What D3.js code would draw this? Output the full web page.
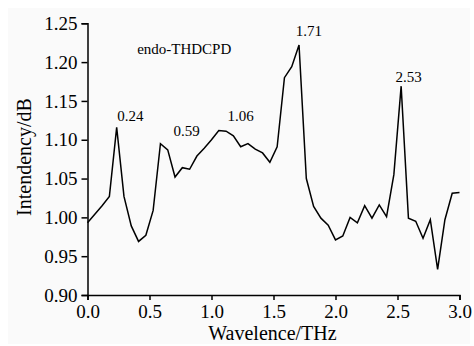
<!DOCTYPE html>
<html>
<head>
<meta charset="utf-8">
<script src="https://cdn.jsdelivr.net/npm/d3@7"></script>
<style>
  body { margin: 0; background: #fff; }
  text { font-family: "Liberation Serif", "Times New Roman", serif; fill: #000; }
</style>
</head>
<body>
<div class="chart"></div>
<script>
var svgWidth = 474;
var svgHeight = 346;

var margin = { top: 23.3, right: 14.5, bottom: 51, left: 87.5 };
var width = svgWidth - margin.left - margin.right;
var height = svgHeight - margin.top - margin.bottom;

// frequency samples: 52 points, step 3/51 THz
var step = 3 / 51;
var intensity = [
  0.993, 1.004, 1.015, 1.027, 1.116, 1.027, 0.989, 0.969, 0.977, 1.009,
  1.095, 1.087, 1.052, 1.064, 1.062, 1.079, 1.089, 1.100, 1.112, 1.111,
  1.105, 1.091, 1.095, 1.088, 1.083, 1.071, 1.091, 1.180, 1.194, 1.222,
  1.050, 1.014, 0.999, 0.990, 0.971, 0.976, 1.000, 0.993, 1.015, 0.999,
  1.016, 1.001, 1.055, 1.169, 0.999, 0.995, 0.973, 0.997, 0.933, 0.997,
  1.031, 1.032
];
var freqs = intensity.map(function(d, i) { return i * step; });

var xTicks = [0, 0.5, 1.0, 1.5, 2.0, 2.5, 3.0];
var yTicks = [0.90, 0.95, 1.00, 1.05, 1.10, 1.15, 1.20, 1.25];

// peak annotations (label, x, y in data units)
var peakLabels = ["0.24", "0.59", "1.06", "1.71", "2.53"];
var peakX = [0.345, 0.80, 1.235, 1.785, 2.59];
var peakY = [1.124, 1.105, 1.124, 1.233, 1.174];

var svg = d3.select(".chart")
  .append("svg")
  .attr("width", svgWidth)
  .attr("height", svgHeight);

svg.append("rect")
  .attr("x", 8).attr("y", 8)
  .attr("width", 462).attr("height", 336)
  .attr("fill", "#fafafa");

var chartGroup = svg.append("g")
  .attr("transform", `translate(${margin.left}, ${margin.top})`);

var x = d3.scaleLinear().domain([0, 3]).range([0, width]);
var y = d3.scaleLinear().domain([0.9, 1.25]).range([height, 0]);

var bottomAxis = d3.axisBottom(x)
  .tickValues(xTicks)
  .tickSize(5)
  .tickPadding(5)
  .tickFormat(d3.format(".1f"));
var leftAxis = d3.axisLeft(y)
  .tickValues(yTicks)
  .tickSize(6)
  .tickPadding(4)
  .tickFormat(d3.format(".2f"));

var xAxis = chartGroup.append("g")
  .attr("transform", `translate(0, ${height})`)
  .call(bottomAxis);
var yAxis = chartGroup.append("g")
  .call(leftAxis);

[xAxis, yAxis].forEach(function(ax) {
  ax.select(".domain").attr("stroke", "#000").attr("stroke-width", 1.5);
  ax.selectAll(".tick line").attr("stroke", "#000").attr("stroke-width", 1.5);
  ax.selectAll(".tick text")
    .attr("font-family", "Liberation Serif")
    .attr("font-size", 19)
    .attr("fill", "#000");
});

// the data line
var line = d3.line()
  .x(function(d, i) { return x(freqs[i]); })
  .y(function(d) { return y(d); });

chartGroup.append("path")
  .datum(intensity)
  .attr("fill", "none")
  .attr("stroke", "#000")
  .attr("stroke-width", 1.5)
  .attr("stroke-linejoin", "miter")
  .attr("d", line);

// peak labels
chartGroup.selectAll(".peak")
  .data(peakLabels)
  .enter()
  .append("text")
  .attr("class", "peak")
  .attr("x", function(d, i) { return x(peakX[i]); })
  .attr("y", function(d, i) { return y(peakY[i]); })
  .attr("text-anchor", "middle")
  .attr("font-size", 15)
  .text(function(d) { return d; });

chartGroup.append("text")
  .attr("x", x(0.78))
  .attr("y", 31)
  .attr("text-anchor", "middle")
  .attr("font-size", 15)
  .text("endo-THDCPD");

// axis titles
svg.append("text")
  .attr("x", 272.5)
  .attr("y", 340)
  .attr("text-anchor", "middle")
  .attr("font-size", 20)
  .text("Wavelence/THz");

svg.append("text")
  .attr("transform", "translate(31, 157) rotate(-90)")
  .attr("text-anchor", "middle")
  .attr("font-size", 20)
  .text("Intendency/dB");
</script>
</body>
</html>
